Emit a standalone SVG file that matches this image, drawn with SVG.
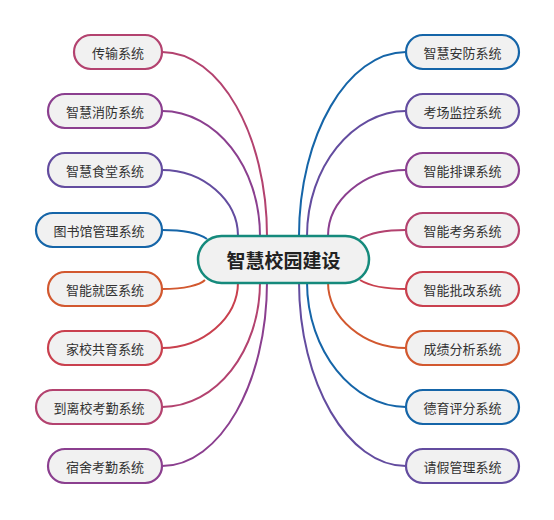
<svg xmlns="http://www.w3.org/2000/svg" width="554" height="520" viewBox="0 0 554 520">
<style>
.n rect{fill:#f1f1f1;stroke-width:2.2}
.n text{font-family:"Noto Sans CJK SC","Liberation Sans",sans-serif;font-size:13px;fill:#333;text-anchor:middle;dominant-baseline:central}
#center rect{fill:#f1f1f1;stroke:#158a7c;stroke-width:2.5}
#center text{font-family:"Noto Sans CJK SC","Liberation Sans",sans-serif;font-size:19px;font-weight:bold;fill:#222;text-anchor:middle;dominant-baseline:central}
#edges path{fill:none;stroke-width:2}
</style>
<rect width="554" height="520" fill="#fff"/>
<g id="edges">
<path d="M162,52 C220,52 267,135 267,236" stroke="#b3426f"/>
<path d="M162,111 C216,111 260,167 260,236" stroke="#8b3f8f"/>
<path d="M162,170 C203,170 238,200 238,236" stroke="#634c9f"/>
<path d="M162,230 C185,230 200,234 207,239" stroke="#1565a8"/>
<path d="M162,289 C185,289 200,285 205,280" stroke="#d2582f"/>
<path d="M162,348 C203,348 238,318 238,282" stroke="#c9404e"/>
<path d="M162,407 C216,407 260,351 260,282" stroke="#b3426f"/>
<path d="M162,466 C220,466 267,383 267,282" stroke="#8b3f8f"/>
<path d="M406,52 C348,52 299,135 299,236" stroke="#1565a8"/>
<path d="M406,111 C353,111 307,167 307,236" stroke="#634c9f"/>
<path d="M406,170 C364,170 328,200 328,236" stroke="#8b3f8f"/>
<path d="M406,230 C383,230 368,234 360,239" stroke="#b3426f"/>
<path d="M406,289 C383,289 368,285 360,280" stroke="#c9404e"/>
<path d="M406,348 C364,348 328,318 328,282" stroke="#d2582f"/>
<path d="M406,407 C353,407 307,351 307,282" stroke="#1565a8"/>
<path d="M406,466 C348,466 299,383 299,282" stroke="#634c9f"/>
</g>
<g id="center"><rect x="198" y="236" width="171" height="47" rx="23.5"/><text x="283.5" y="259.5">智慧校园建设</text></g>
<g id="l1" class="n"><rect x="74" y="35" width="88" height="34" rx="17" stroke="#b3426f"/><text x="118" y="52">传输系统</text></g>
<g id="l2" class="n"><rect x="48" y="94" width="114" height="34" rx="17" stroke="#8b3f8f"/><text x="105" y="111">智慧消防系统</text></g>
<g id="l3" class="n"><rect x="48" y="153" width="114" height="34" rx="17" stroke="#634c9f"/><text x="105" y="170">智慧食堂系统</text></g>
<g id="l4" class="n"><rect x="36" y="213" width="126" height="34" rx="17" stroke="#1565a8"/><text x="99" y="230">图书馆管理系统</text></g>
<g id="l5" class="n"><rect x="48" y="272" width="114" height="34" rx="17" stroke="#d2582f"/><text x="105" y="289">智能就医系统</text></g>
<g id="l6" class="n"><rect x="48" y="331" width="114" height="34" rx="17" stroke="#c9404e"/><text x="105" y="348">家校共育系统</text></g>
<g id="l7" class="n"><rect x="36" y="390" width="126" height="34" rx="17" stroke="#b3426f"/><text x="99" y="407">到离校考勤系统</text></g>
<g id="l8" class="n"><rect x="48" y="449" width="114" height="34" rx="17" stroke="#8b3f8f"/><text x="105" y="466">宿舍考勤系统</text></g>
<g id="r1" class="n"><rect x="406" y="35" width="113" height="34" rx="17" stroke="#1565a8"/><text x="462.5" y="52">智慧安防系统</text></g>
<g id="r2" class="n"><rect x="406" y="94" width="113" height="34" rx="17" stroke="#634c9f"/><text x="462.5" y="111">考场监控系统</text></g>
<g id="r3" class="n"><rect x="406" y="153" width="113" height="34" rx="17" stroke="#8b3f8f"/><text x="462.5" y="170">智能排课系统</text></g>
<g id="r4" class="n"><rect x="406" y="213" width="113" height="34" rx="17" stroke="#b3426f"/><text x="462.5" y="230">智能考务系统</text></g>
<g id="r5" class="n"><rect x="406" y="272" width="113" height="34" rx="17" stroke="#c9404e"/><text x="462.5" y="289">智能批改系统</text></g>
<g id="r6" class="n"><rect x="406" y="331" width="113" height="34" rx="17" stroke="#d2582f"/><text x="462.5" y="348">成绩分析系统</text></g>
<g id="r7" class="n"><rect x="406" y="390" width="113" height="34" rx="17" stroke="#1565a8"/><text x="462.5" y="407">德育评分系统</text></g>
<g id="r8" class="n"><rect x="406" y="449" width="113" height="34" rx="17" stroke="#634c9f"/><text x="462.5" y="466">请假管理系统</text></g>
</svg>
